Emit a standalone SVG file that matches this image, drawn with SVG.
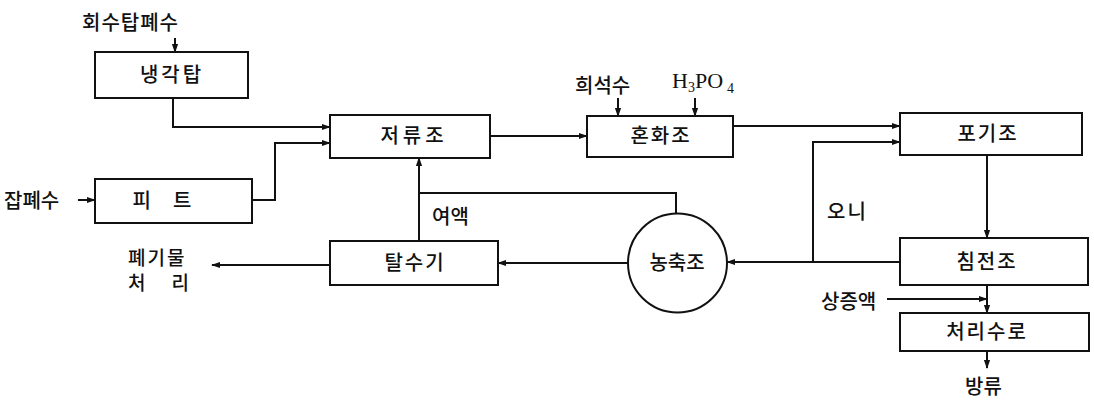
<svg xmlns="http://www.w3.org/2000/svg" width="1094" height="402" viewBox="0 0 1094 402">
<style>
.box{fill:#fff;stroke:#111;stroke-width:2}
.ln{fill:none;stroke:#111;stroke-width:2}
text{font-family:"Noto Sans CJK KR","Noto Sans",sans-serif;font-size:20px;font-weight:500;fill:#111}
.c{text-anchor:middle}
.lat{font-family:"Liberation Serif",serif;font-size:22px;font-weight:400}
.sm{font-size:19px}
</style>
<defs>
<marker id="ah" viewBox="0 0 10 10" refX="9" refY="5" markerWidth="9" markerHeight="9" markerUnits="userSpaceOnUse" orient="auto">
<path d="M0,1.5 L10,5 L0,8.5 Z" fill="#111"/>
</marker>
</defs>
<g id="connectors">
<path class="ln" d="M175,38 L175,52" marker-end="url(#ah)"/>
<path class="ln" d="M173,98 L173,127 L330,127" marker-end="url(#ah)"/>
<path class="ln" d="M78,200 L95,200" marker-end="url(#ah)"/>
<path class="ln" d="M252,200 L275,200 L275,143 L330,143" marker-end="url(#ah)"/>
<path class="ln" d="M490,136 L587,136" marker-end="url(#ah)"/>
<path class="ln" d="M618,98 L618,116" marker-end="url(#ah)"/>
<path class="ln" d="M695,98 L695,116" marker-end="url(#ah)"/>
<path class="ln" d="M733,126 L900,126" marker-end="url(#ah)"/>
<path class="ln" d="M900,262 L813,262 L813,142 L900,142" marker-end="url(#ah)"/>
<path class="ln" d="M813,262 L727,262" marker-end="url(#ah)"/>
<path class="ln" d="M987,155 L987,238" marker-end="url(#ah)"/>
<path class="ln" d="M676,214 L676,193 L419,193 L419,158" marker-end="url(#ah)"/>
<path class="ln" d="M419,193 L419,241"/>
<path class="ln" d="M628,263 L498,263" marker-end="url(#ah)"/>
<path class="ln" d="M330,265 L212,265" marker-end="url(#ah)"/>
<path class="ln" d="M987,285 L987,313" marker-end="url(#ah)"/>
<path class="ln" d="M887,299 L987,299" marker-end="url(#ah)"/>
<path class="ln" d="M987,351 L987,368" marker-end="url(#ah)"/>
</g>
<g id="n-cooling"><rect class="box" x="95" y="52" width="153" height="46"/><text class="c" x="172" y="82" letter-spacing="3">냉각탑</text></g>
<g id="n-pit"><rect class="box" x="95" y="179" width="157" height="44"/><text class="c" x="173" y="208" letter-spacing="22">피트</text></g>
<g id="n-storage"><rect class="box" x="330" y="115" width="160" height="43"/><text class="c" x="414" y="143" letter-spacing="4">저류조</text></g>
<g id="n-mix"><rect class="box" x="587" y="116" width="146" height="41"/><text class="c" x="661" y="143" letter-spacing="2">혼화조</text></g>
<g id="n-aeration"><rect class="box" x="900" y="113" width="182" height="42"/><text class="c" x="988" y="141" letter-spacing="2">포기조</text></g>
<g id="n-settling"><rect class="box" x="900" y="238" width="188" height="47"/><text class="c" x="987" y="269" letter-spacing="2">침전조</text></g>
<g id="n-treated"><rect class="box" x="900" y="313" width="189" height="38"/><text class="c" x="987" y="339" letter-spacing="2">처리수로</text></g>
<g id="n-dewater"><rect class="box" x="330" y="241" width="168" height="44"/><text class="c" x="415" y="270" letter-spacing="2">탈수기</text></g>
<g id="n-thickener"><circle class="box" cx="677.5" cy="263" r="49.5"/><text class="c" x="677" y="270">농축조</text></g>
<g id="labels">
<text x="82" y="30" letter-spacing="1">회수탑폐수</text>
<text x="4" y="208">잡폐수</text>
<text x="575" y="93">희석수</text>
<text class="lat" x="672" y="88">H<tspan font-size="14" dy="4">3</tspan><tspan dy="-4">PO</tspan><tspan font-size="14" dy="5" dx="4">4</tspan></text>
<text x="432" y="224">여액</text>
<text x="827" y="219" letter-spacing="2">오니</text>
<text class="sm" x="128" y="265" letter-spacing="2">폐기물</text>
<text class="sm" x="128" y="290" letter-spacing="26">처리</text>
<text x="821" y="309">상증액</text>
<text x="965" y="394">방류</text>
</g>
</svg>
